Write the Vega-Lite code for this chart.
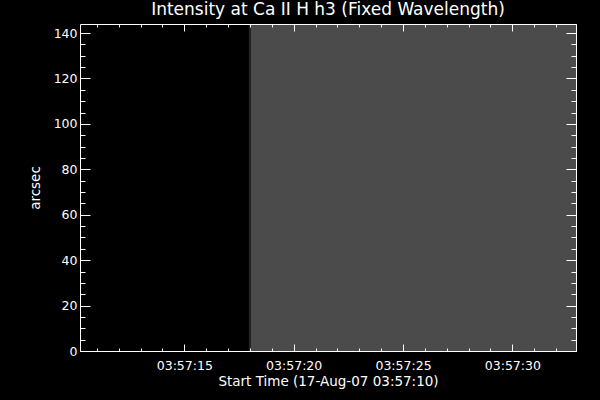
{
  "$schema": "https://vega.github.io/schema/vega-lite/v6.json",
  "autosize": "none",
  "padding": {"left": 80, "top": 24, "right": 24, "bottom": 49},
  "width": 496,
  "height": 327,
  "background": "black",
  "title": {
    "text": "Intensity at Ca II H h3 (Fixed Wavelength)",
    "color": "white",
    "font": "DejaVu Sans",
    "fontSize": 17,
    "fontWeight": "normal",
    "anchor": "middle",
    "offset": 5
  },
  "config": {
    "view": {"stroke": "white", "strokeWidth": 1},
    "axis": {
      "domain": true,
      "domainColor": "white",
      "domainWidth": 1,
      "grid": false,
      "tickColor": "white",
      "tickWidth": 1,
      "labelColor": "white",
      "labelFont": "DejaVu Sans",
      "labelFontSize": 12.5,
      "titleColor": "white",
      "titleFont": "DejaVu Sans",
      "titleFontSize": 13.5,
      "titleFontWeight": "normal"
    }
  },
  "data": {
    "values": [
      {"start": 0.23, "end": 7.95, "lo": 0, "hi": 144, "intensity": 0},
      {"start": 7.95, "end": 8.05, "lo": 0, "hi": 144, "intensity": 0.45},
      {"start": 8.05, "end": 22.91, "lo": 0, "hi": 144, "intensity": 1}
    ]
  },
  "layer": [
    {
      "mark": {"type": "rect"},
      "encoding": {
        "x": {
          "field": "start",
          "type": "quantitative",
          "scale": {"domain": [0.23, 22.91], "nice": false, "zero": false},
          "axis": {
            "orient": "bottom",
            "zindex": 2,
            "title": "Start Time (17-Aug-07 03:57:10)",
            "values": [1, 2, 3, 4, 5, 6, 7, 8, 9, 10, 11, 12, 13, 14, 15, 16, 17, 18, 19, 20, 21, 22],
            "labelExpr": "datum.value % 5 === 0 ? '03:57:' + (10 + datum.value) : ''",
            "labelOverlap": false,
            "labelFlush": false,
            "tickSize": {"condition": {"test": "datum.value % 5 === 0", "value": -7}, "value": -3},
            "labelPadding": 15.5,
            "titlePadding": -2
          }
        },
        "x2": {"field": "end"},
        "y": {
          "field": "lo",
          "type": "quantitative",
          "scale": {"domain": [0, 144], "nice": false},
          "axis": {
            "orient": "left",
            "zindex": 2,
            "title": "arcsec",
            "values": [0, 5, 10, 15, 20, 25, 30, 35, 40, 45, 50, 55, 60, 65, 70, 75, 80, 85, 90, 95, 100, 105, 110, 115, 120, 125, 130, 135, 140],
            "labelExpr": "datum.value % 20 === 0 ? datum.label : ''",
            "labelOverlap": false,
            "labelFlush": false,
            "tickSize": {"condition": {"test": "datum.value % 20 === 0", "value": -10}, "value": -5},
            "labelPadding": 13,
            "titlePadding": 10.5
          }
        },
        "y2": {"field": "hi"},
        "color": {
          "field": "intensity",
          "type": "quantitative",
          "scale": {"domain": [0, 1], "range": ["#000000", "#4b4b4b"]},
          "legend": null
        }
      }
    },
    {
      "mark": {"type": "rect", "opacity": 0},
      "encoding": {
        "x": {
          "field": "start",
          "type": "quantitative",
          "axis": {
            "orient": "top",
            "zindex": 2,
            "title": null,
            "labels": false,
            "values": [1, 2, 3, 4, 5, 6, 7, 8, 9, 10, 11, 12, 13, 14, 15, 16, 17, 18, 19, 20, 21, 22],
            "tickSize": {"condition": {"test": "datum.value % 5 === 0", "value": -7}, "value": -3}
          }
        },
        "x2": {"field": "end"},
        "y": {
          "field": "lo",
          "type": "quantitative",
          "axis": {
            "orient": "right",
            "zindex": 2,
            "title": null,
            "labels": false,
            "values": [0, 5, 10, 15, 20, 25, 30, 35, 40, 45, 50, 55, 60, 65, 70, 75, 80, 85, 90, 95, 100, 105, 110, 115, 120, 125, 130, 135, 140],
            "tickSize": {"condition": {"test": "datum.value % 20 === 0", "value": -10}, "value": -5}
          }
        },
        "y2": {"field": "hi"}
      }
    }
  ],
  "resolve": {"axis": {"x": "independent", "y": "independent"}}
}
